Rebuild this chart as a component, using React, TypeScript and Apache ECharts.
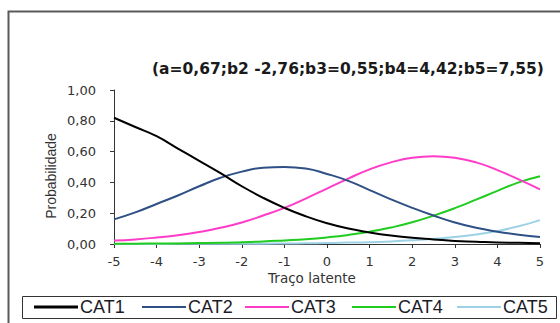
import React, { useEffect, useRef } from "react";
import * as echarts from "echarts";

const thetas = [-5, -4.5, -4, -3.5, -3, -2.5, -2, -1.5, -1, -0.5, 0, 0.5, 1, 1.5, 2, 2.5, 3, 3.5, 4, 4.5, 5];
const cat1 = [0.82, 0.76, 0.70, 0.62, 0.54, 0.46, 0.375, 0.30, 0.235, 0.18, 0.135, 0.10, 0.075, 0.055, 0.04, 0.03, 0.02, 0.015, 0.01, 0.008, 0.005];
const cat2 = [0.16, 0.205, 0.26, 0.315, 0.375, 0.43, 0.47, 0.495, 0.50, 0.49, 0.455, 0.41, 0.35, 0.29, 0.235, 0.185, 0.14, 0.105, 0.08, 0.06, 0.045];
const cat3 = [0.022, 0.03, 0.042, 0.057, 0.078, 0.105, 0.14, 0.185, 0.235, 0.295, 0.36, 0.425, 0.485, 0.53, 0.56, 0.57, 0.56, 0.53, 0.48, 0.42, 0.355];
const cat4 = [0.002, 0.002, 0.003, 0.004, 0.006, 0.008, 0.012, 0.016, 0.023, 0.031, 0.043, 0.059, 0.08, 0.107, 0.141, 0.184, 0.233, 0.288, 0.345, 0.40, 0.44];
const cat5 = [0, 0, 0, 0.001, 0.001, 0.001, 0.002, 0.002, 0.003, 0.005, 0.006, 0.009, 0.012, 0.017, 0.024, 0.033, 0.045, 0.062, 0.085, 0.115, 0.155];

const seriesNames = ["CAT1", "CAT2", "CAT3", "CAT4", "CAT5"];
const seriesValues = [cat1, cat2, cat3, cat4, cat5];
const seriesColors = ["#000000", "#2f5085", "#ff3cc8", "#1fcc1f", "#9dd2e6"];

const titleText = "(a=0,67;b2 -2,76;b3=0,55;b4=4,42;b5=7,55)";
const yAxisName = "Probabilidade";
const xAxisName = "Traço latente";

const legendLefts = [34, 142, 245, 352, 457];

export default function App() {
  const ref = useRef<HTMLDivElement>(null);
  useEffect(() => {
    if (!ref.current) return;
    const chart = echarts.init(ref.current, null, { renderer: "svg" });
    const axisFont = "DejaVu Sans";
    const option: any = {
      animation: false,
      backgroundColor: "#ffffff",
      title: {
        text: titleText,
        left: 152,
        top: 61,
        padding: 0,
        textStyle: { fontFamily: axisFont, fontSize: 15.5, fontWeight: "bold", color: "#1a1a1a" },
      },
      legend: seriesNames.map((n, i) => ({
        data: [n],
        left: legendLefts[i],
        top: 298,
        padding: 0,
        itemWidth: 44,
        itemHeight: i === 0 ? 3 : 2,
        icon: "rect",
        selectedMode: false,
        textStyle: { fontFamily: "Liberation Sans", fontSize: 18, color: "#1c1c2a", padding: [0, 0, 0, -3] },
      })),
      grid: { left: 114, right: 20, top: 90, bottom: 79 },
      xAxis: {
        type: "value",
        min: -5,
        max: 5,
        interval: 1,
        axisLine: { show: true, onZero: false, lineStyle: { color: "#333", width: 1 } },
        axisTick: { show: true, length: 4, lineStyle: { color: "#333" } },
        splitLine: { show: false },
        axisLabel: { margin: 11, fontFamily: axisFont, fontSize: 13, color: "#333" },
      },
      yAxis: {
        type: "value",
        min: 0,
        max: 1,
        interval: 0.2,
        axisLine: { show: true, onZero: false, lineStyle: { color: "#333", width: 1 } },
        axisTick: { show: true, length: 4, lineStyle: { color: "#333" } },
        splitLine: { show: false },
        axisLabel: {
          margin: 18,
          fontFamily: axisFont,
          fontSize: 13,
          color: "#333",
          formatter: (v: number) => v.toFixed(2).replace(".", ","),
        },
      },
      graphic: [
        {
          type: "rect",
          shape: { x: 8.5, y: 11.5, width: 700, height: 500 },
          style: { fill: "none", stroke: "#5a5a5a", lineWidth: 2 },
          silent: true,
        },
        {
          type: "rect",
          shape: { x: 22.5, y: 296.5, width: 534, height: 22 },
          style: { fill: "none", stroke: "#333", lineWidth: 1 },
          silent: true,
        },
        {
          type: "text",
          x: 51,
          y: 176,
          rotation: Math.PI / 2,
          style: {
            text: yAxisName,
            fontFamily: "Liberation Sans",
            fontSize: 14,
            fill: "#333",
            align: "center",
            verticalAlign: "middle",
          },
        },
        {
          type: "text",
          x: 312,
          y: 278,
          style: {
            text: xAxisName,
            fontFamily: axisFont,
            fontSize: 13.5,
            fill: "#333",
            align: "center",
            verticalAlign: "middle",
          },
        },
      ],
      series: seriesNames.map((n, i) => ({
        name: n,
        type: "line",
        smooth: true,
        showSymbol: false,
        symbol: "none",
        color: seriesColors[i],
        lineStyle: { color: seriesColors[i], width: 2 },
        itemStyle: { color: seriesColors[i] },
        data: thetas.map((t, k) => [t, seriesValues[i][k]]),
        z: 5 - i,
      })),
    };
    chart.setOption(option);
    return () => chart.dispose();
  }, []);
  return <div ref={ref} style={{ position: "fixed", left: 0, top: 0, width: 560, height: 323 }} />;
}
